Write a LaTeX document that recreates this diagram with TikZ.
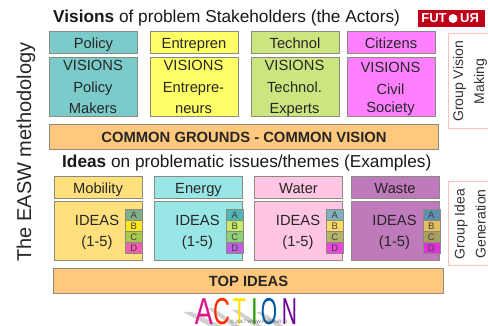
\documentclass[tikz,border=0pt]{standalone}
\usepackage{fontspec}
\setmainfont{Liberation Sans}
\definecolor{polc}{HTML}{7CCBCB}
\definecolor{entc}{HTML}{FFFF66}
\definecolor{tecc}{HTML}{CCE67F}
\definecolor{citc}{HTML}{FF80FF}
\definecolor{orac}{HTML}{FFC87C}
\definecolor{mobc}{HTML}{FFE07C}
\definecolor{enec}{HTML}{99E6E6}
\definecolor{watc}{HTML}{FFC5E2}
\definecolor{wasc}{HTML}{BF7ABB}
\definecolor{redc}{HTML}{C00018}
\definecolor{fr}{HTML}{8A8A80}
\newcommand{\ls}{\rule[-3.5pt]{0pt}{12pt}}
\tikzset{
  x=1pt,y=-1pt,
  boxb/.style={draw=fr,line width=1pt,inner sep=0pt,align=center,anchor=north west,font=\fontsize{14.7}{21.5}\selectfont,text=black!85},
  headbox/.style={boxb,minimum width=88pt,minimum height=22pt,text height=13.5pt,text depth=2pt},
  bodybox/.style={boxb,minimum width=88pt,minimum height=59pt},
  ideatext/.style={inner sep=0pt,align=center,font=\fontsize{14.7}{21.5}\selectfont,text=black!85},
  banner/.style={boxb,font=\fontsize{14.8}{16}\selectfont\bfseries},
  side/.style={draw=red!25!white,line width=1pt,inner sep=0pt,align=center,rotate=90,font=\fontsize{14}{21}\selectfont,text=black!80},
  cell/.style={draw=fr,line width=.5pt,inner sep=0pt,font=\fontsize{9.5}{9.5}\selectfont,text=black!75,minimum height=11pt,minimum width=17pt,anchor=north west},
  head/.style={inner sep=0pt,font=\fontsize{17.25}{20}\selectfont,text=black!90},
  letter/.style={inner sep=0pt,font=\fontsize{30}{30}\selectfont,anchor=base},
  logotext/.style={inner sep=0pt,text=white,font=\fontsize{13}{13}\selectfont\bfseries},
}
\newcommand{\legendcol}[6]{%
  \definecolor{#1colA}{HTML}{#3}\definecolor{#1colB}{HTML}{#4}\definecolor{#1colC}{HTML}{#5}\definecolor{#1colD}{HTML}{#6}%
  \node[cell,fill=#1colA] (#1a) at (#2,209) {A};
  \node[cell,fill=#1colB] (#1b) at (#2,220) {B};
  \node[cell,fill=#1colC] (#1c) at (#2,231) {C};
  \node[cell,fill=#1colD] (#1d) at (#2,242) {D};
}
\begin{document}
\begin{tikzpicture}
\useasboundingbox (0,0) rectangle (488,326);
\fill[white] (0,0) rectangle (488,326);

\node[head,anchor=base west] (t1) at (53,23) {\textbf{Visions} of problem Stakeholders (the Actors)};
\node[head,anchor=base west] (t2) at (62,168) {\textbf{Ideas} on problematic issues/themes (Examples)};
\node[rotate=90,inner sep=0pt,font=\fontsize{20}{22}\selectfont,text=black!85] (easw) at (26,152) {The EASW methodology};

% logo
\node[fill=redc,minimum width=67pt,minimum height=17.5pt,inner sep=0pt] (logo) at (451.5,18.5) {};
\node[logotext] (logof) at (434,18.5) {FUT};
\fill[white] (453,18.5) circle (4.5);
\node[logotext] (logou) at (469.5,18.5) {UЯ};

% visions row
\node[headbox,fill=polc] (p1) at (49,31) {Policy};
\node[bodybox,fill=polc] (p2) at (49,57) {};
\node[ideatext] (p3) at (93,88.75) {\ls VISIONS\\\ls Policy\\\ls Makers};
\node[headbox,fill=entc] (e1) at (149.5,31) {Entrepren};
\node[bodybox,fill=entc] (e2) at (149.5,57) {};
\node[ideatext] (e3) at (193.5,88.75) {\ls VISIONS\\\ls Entrepre-\\\ls neurs};
\node[headbox,fill=tecc] (c1) at (250.5,31) {Technol};
\node[bodybox,fill=tecc] (c2) at (250.5,57) {};
\node[ideatext] (c3) at (294.5,88.75) {\ls VISIONS\\\ls Technol.\\\ls Experts};
\node[headbox,fill=citc] (z1) at (346.5,31) {Citizens};
\node[bodybox,fill=citc] (z2) at (346.5,57) {};
\node[ideatext] (z3) at (390.5,89) {\ls VISIONS\\\ls Civil\\[-3.5pt]\ls Society};

\node[banner,fill=orac,minimum width=389pt,minimum height=25pt] (cg) at (49,124) {COMMON GROUNDS - COMMON VISION};

% ideas row
\node[headbox,fill=mobc] (m1) at (53.5,176) {Mobility};
\node[bodybox,fill=mobc] (m2) at (53.5,201.5) {};
\node[ideatext] (m3) at (97,232.5) {\ls IDEAS\\\ls (1-5)};
\node[headbox,fill=enec] (n1) at (154,176) {Energy};
\node[bodybox,fill=enec] (n2) at (154,201.5) {};
\node[ideatext] (n3) at (197.5,232.5) {\ls IDEAS\\\ls (1-5)};
\node[headbox,fill=watc] (w1) at (254,176) {Water};
\node[bodybox,fill=watc] (w2) at (254,201.5) {};
\node[ideatext] (w3) at (298,232.5) {\ls IDEAS\\\ls (1-5)};
\node[headbox,fill=wasc] (a1) at (350.5,176) {Waste};
\node[bodybox,fill=wasc] (a2) at (350.5,201.5) {};
\node[ideatext] (a3) at (394.5,232.5) {\ls IDEAS\\\ls (1-5)};

\legendcol{lm}{125}{7FB08A}{FFE81A}{A9C94A}{F05FB0}
\legendcol{ln}{226}{4FB5B5}{C8E86A}{8FD07A}{BE5FE0}
\legendcol{lw}{326}{7FB0BC}{FFD966}{B5B56A}{EE45DD}
\legendcol{la}{422.5}{5F8FB0}{E5BE5F}{A8A05F}{E030D8}

\node[banner,fill=orac,minimum width=390pt,minimum height=25pt] (top) at (53,268.5) {TOP IDEAS};

% side labels (their right edges run off the page)
\node[side,minimum width=95pt,minimum height=44pt] (g1) at (470,81.5) {Group Vision\\Making};
\node[side,minimum width=84pt,minimum height=44pt] (g2) at (470,224) {Group Idea\\Generation};

% ACTION
\begin{scope}[black!18]
  \fill (183,312) -- (192,312) -- (222,326) -- (209,326) -- cycle;
  \fill (207,308) -- (213,308) -- (240,326) -- (232,326) -- cycle;
  \fill (232,310) -- (238,310) -- (262,326) -- (254,326) -- cycle;
  \fill (256,312) -- (262,312) -- (284,326) -- (276,326) -- cycle;
\end{scope}
\node[letter,text=magenta!85!violet] (la1) at (204,324.5) {\scalebox{.9}[1.25]{A}};
\node[letter,text=orange!35!red] (la2) at (221.5,324.5) {\scalebox{.78}[1.25]{C}};
\node[letter,text=yellow!85!orange] (la3) at (239.5,324.5) {\scalebox{.72}[1.25]{T}};
\node[letter,text=green!55!black!85!yellow] (la4) at (254.5,324.5) {\scalebox{.8}[1.25]{I}};
\node[letter,text=teal!70!blue] (la5) at (269,324.5) {\scalebox{.7}[1.25]{O}};
\node[letter,text=violet!85!blue] (la6) at (289.5,324.5) {\scalebox{.7}[1.25]{N}};
\node[inner sep=0pt,font=\fontsize{4.8}{5}\selectfont,text=black!60] (copy) at (259,322) {© 2017 WWW.FUTOUR.FI};
\end{tikzpicture}
\end{document}
